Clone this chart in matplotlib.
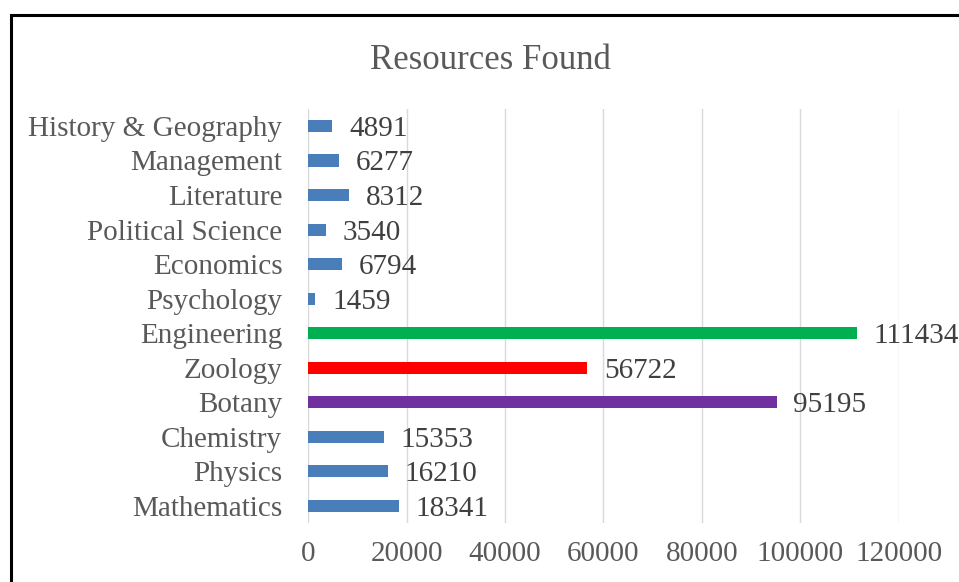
import matplotlib.pyplot as plt
from matplotlib.patches import Rectangle

# categories listed bottom to top
subjects = ["Mathematics", "Physics", "Chemistry", "Botany", "Zoology", "Engineering",
            "Psychology", "Economics", "Political Science", "Literature", "Management",
            "History & Geography"]
resources = [18341, 16210, 15353, 95195, 56722, 111434, 1459, 6794, 3540, 8312, 6277, 4891]
bar_colors = ["#4a7ebb"] * 3 + ["#7030a0", "#ff0000", "#00b050"] + ["#4a7ebb"] * 6
x_ticks = [0, 20000, 40000, 60000, 80000, 100000, 120000]

plt.rcParams['font.family'] = ['Liberation Serif', 'DejaVu Serif']

fig = plt.figure(figsize=(9.59, 5.82), dpi=100)
ax = fig.add_axes([0.3215, 0.1009, 0.6156, 0.7124])

y = list(range(len(subjects)))
ax.barh(y, resources, height=0.35, color=bar_colors, zorder=3)
for yi, v in zip(y, resources):
    ax.annotate(str(v), (v, yi), xytext=(12, 0), textcoords='offset points',
                va='center_baseline', ha='left', fontsize=21, color='#404040',
                annotation_clip=False)

ax.set_xlim(0, 120000)
ax.set_ylim(-0.5, len(subjects) - 0.5)
ax.set_xticks(x_ticks)
ax.set_xticklabels([str(t) for t in x_ticks])
ax.set_yticks(y)
ax.set_yticklabels(subjects)
ax.tick_params(axis='both', length=0, labelsize=21, labelcolor='#595959')
ax.tick_params(axis='y', pad=18.7)
ax.tick_params(axis='x', pad=13)
ax.grid(axis='x', color='#d9d9d9', linewidth=1, zorder=0)
for s in ax.spines.values():
    s.set_visible(False)

fig.text(0.511, 0.8814, "Resources Found", ha='center', va='baseline', fontsize=25, color='#595959')

# outer frame, cut off on the right and bottom like the screenshot
fig.patches.append(Rectangle((0.0115, -0.05), 1.2, 1.024, transform=fig.transFigure,
                             fill=False, edgecolor='black', linewidth=2.2))

fig.savefig("out.png", dpi=100)
